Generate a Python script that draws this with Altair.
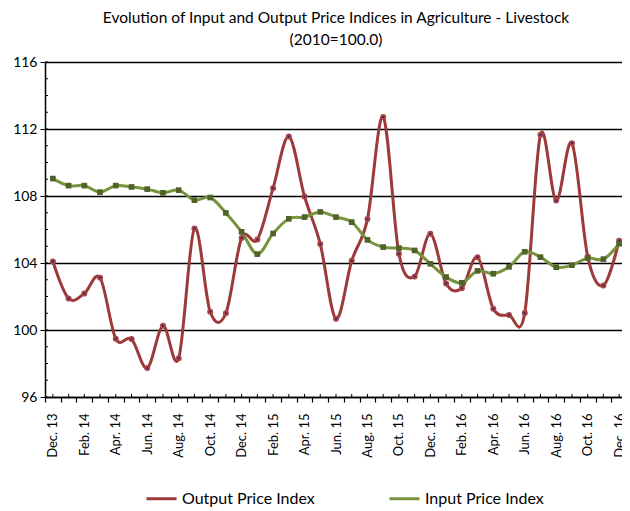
import altair as alt
import pandas as pd

months = ["Dec. 13", "Jan. 14", "Feb. 14", "Mar. 14", "Apr. 14", "May. 14", "Jun. 14",
          "Jul. 14", "Aug. 14", "Sep. 14", "Oct. 14", "Nov. 14", "Dec. 14",
          "Jan. 15", "Feb. 15", "Mar. 15", "Apr. 15", "May. 15", "Jun. 15",
          "Jul. 15", "Aug. 15", "Sep. 15", "Oct. 15", "Nov. 15", "Dec. 15",
          "Jan. 16", "Feb. 16", "Mar. 16", "Apr. 16", "May. 16", "Jun. 16",
          "Jul. 16", "Aug. 16", "Sep. 16", "Oct. 16", "Nov. 16", "Dec. 16"]

output_index = [104.09, 101.88, 102.18, 103.12, 99.48, 99.46, 97.73, 100.25, 98.31,
                106.06, 101.09, 101.00, 105.50, 105.40, 108.47, 111.55, 107.97,
                105.13, 100.67, 104.13, 106.62, 112.72, 104.55, 103.20, 105.74,
                102.78, 102.50, 104.35, 101.27, 100.89, 101.01, 111.65, 107.73,
                111.15, 104.39, 102.66, 105.33]

input_index = [109.04, 108.62, 108.62, 108.23, 108.62, 108.54, 108.41, 108.19, 108.35,
               107.75, 107.91, 106.99, 105.86, 104.53, 105.76, 106.64, 106.74,
               107.05, 106.74, 106.44, 105.38, 104.95, 104.89, 104.75, 103.95,
               103.16, 102.82, 103.53, 103.36, 103.77, 104.67, 104.35, 103.75,
               103.87, 104.29, 104.23, 105.15]

series_names = ["Output Price Index", "Input Price Index"]
series_colors = ["#9B3A38", "#77933C"]
y_major = [96, 100, 104, 108, 112, 116]
y_minor = list(range(96, 117))

df = pd.DataFrame({
    "month": months * 2,
    "value": output_index + input_index,
    "series": [series_names[0]] * len(months) + [series_names[1]] * len(months),
})
df_out = df[df["series"] == series_names[0]]
df_in = df[df["series"] == series_names[1]]
minor_df = pd.DataFrame({"v": y_minor})
month_df = pd.DataFrame({"month": months})

FONT = "Lato"
PLOT_H = 335

x_enc = alt.X(
    "month:N", sort=months, bandPosition=0.5,
    scale=alt.Scale(type="band", paddingInner=0, paddingOuter=0),
    axis=alt.Axis(
        title=None, labelAngle=270, tickBand="extent", grid=False,
        labelExpr="test(/^(Dec|Feb|Apr|Jun|Aug|Oct)/, datum.label) ? datum.label : ''",
        labelFont=FONT, labelFontSize=13, labelColor="black", labelPadding=11,
        domainColor="black", domainWidth=1.5, tickColor="black", tickSize=5, tickWidth=1.2,
        tickOffset=0,
    ),
)
y_scale = alt.Scale(domain=[96, 116], nice=False, zero=False)
y_enc = alt.Y(
    "value:Q", scale=y_scale,
    axis=alt.Axis(
        title=None, values=y_major, grid=True, gridColor="black", gridWidth=1.5,
        gridOpacity=1, labelFont=FONT, labelFontSize=14, labelColor="black",
        domainColor="black", domainWidth=1.5, tickColor="black", tickSize=5,
        labelPadding=3,
    ),
)

lines = alt.Chart(df).mark_line(interpolate="cardinal", strokeWidth=3).encode(
    x=x_enc, y=y_enc,
    color=alt.Color(
        "series:N",
        scale=alt.Scale(domain=series_names, range=series_colors),
        legend=alt.Legend(
            title=None, orient="none", direction="horizontal", legendX=100, legendY=420,
            symbolType="stroke", symbolStrokeWidth=3, symbolSize=900,
            labelFont=FONT, labelFontSize=16, labelColor="black", columnPadding=68,
            labelOffset=4,
        ),
    ),
)

pts_out = alt.Chart(df_out).mark_point(
    shape="circle", filled=True, size=36, color="#A84444", opacity=1
).encode(x=alt.X("month:N", sort=months, bandPosition=0.5), y=alt.Y("value:Q"))

dots_out = alt.Chart(df_out).mark_point(
    shape="square", filled=True, size=3, color="#1F1F7A", opacity=1
).encode(x=alt.X("month:N", sort=months, bandPosition=0.5), y=alt.Y("value:Q"))

pts_in = alt.Chart(df_in).mark_point(
    shape="square", filled=True, size=32, color="#4F6228", opacity=1
).encode(x=alt.X("month:N", sort=months, bandPosition=0.5), y=alt.Y("value:Q"))

minor_y = alt.Chart(minor_df).mark_rule(color="black", strokeWidth=1).encode(
    y=alt.Y("v:Q", scale=y_scale), x=alt.value(0), x2=alt.value(3)
)

minor_x = alt.Chart(month_df).mark_rule(color="black", strokeWidth=1).encode(
    x=alt.X("month:N", sort=months, bandPosition=0.5),
    y=alt.value(PLOT_H - 3), y2=alt.value(PLOT_H),
)

chart = alt.layer(lines, minor_y, minor_x, pts_out, dots_out, pts_in).properties(
    width=582, height=PLOT_H,
    autosize=alt.AutoSizeParams(type="none"),
    padding={"left": 37, "top": 54, "right": -5, "bottom": 112},
    title=alt.TitleParams(
        text=["Evolution of Input and Output Price Indices in Agriculture - Livestock",
              "(2010=100.0)"],
        font=FONT, fontSize=15.5, fontWeight="normal", color="black",
        anchor="middle", lineHeight=22, offset=7,
    ),
).configure_view(stroke=None).configure_axis(labelFlush=False)

chart.save("out.html", embed_options={"renderer": "svg", "actions": False})
